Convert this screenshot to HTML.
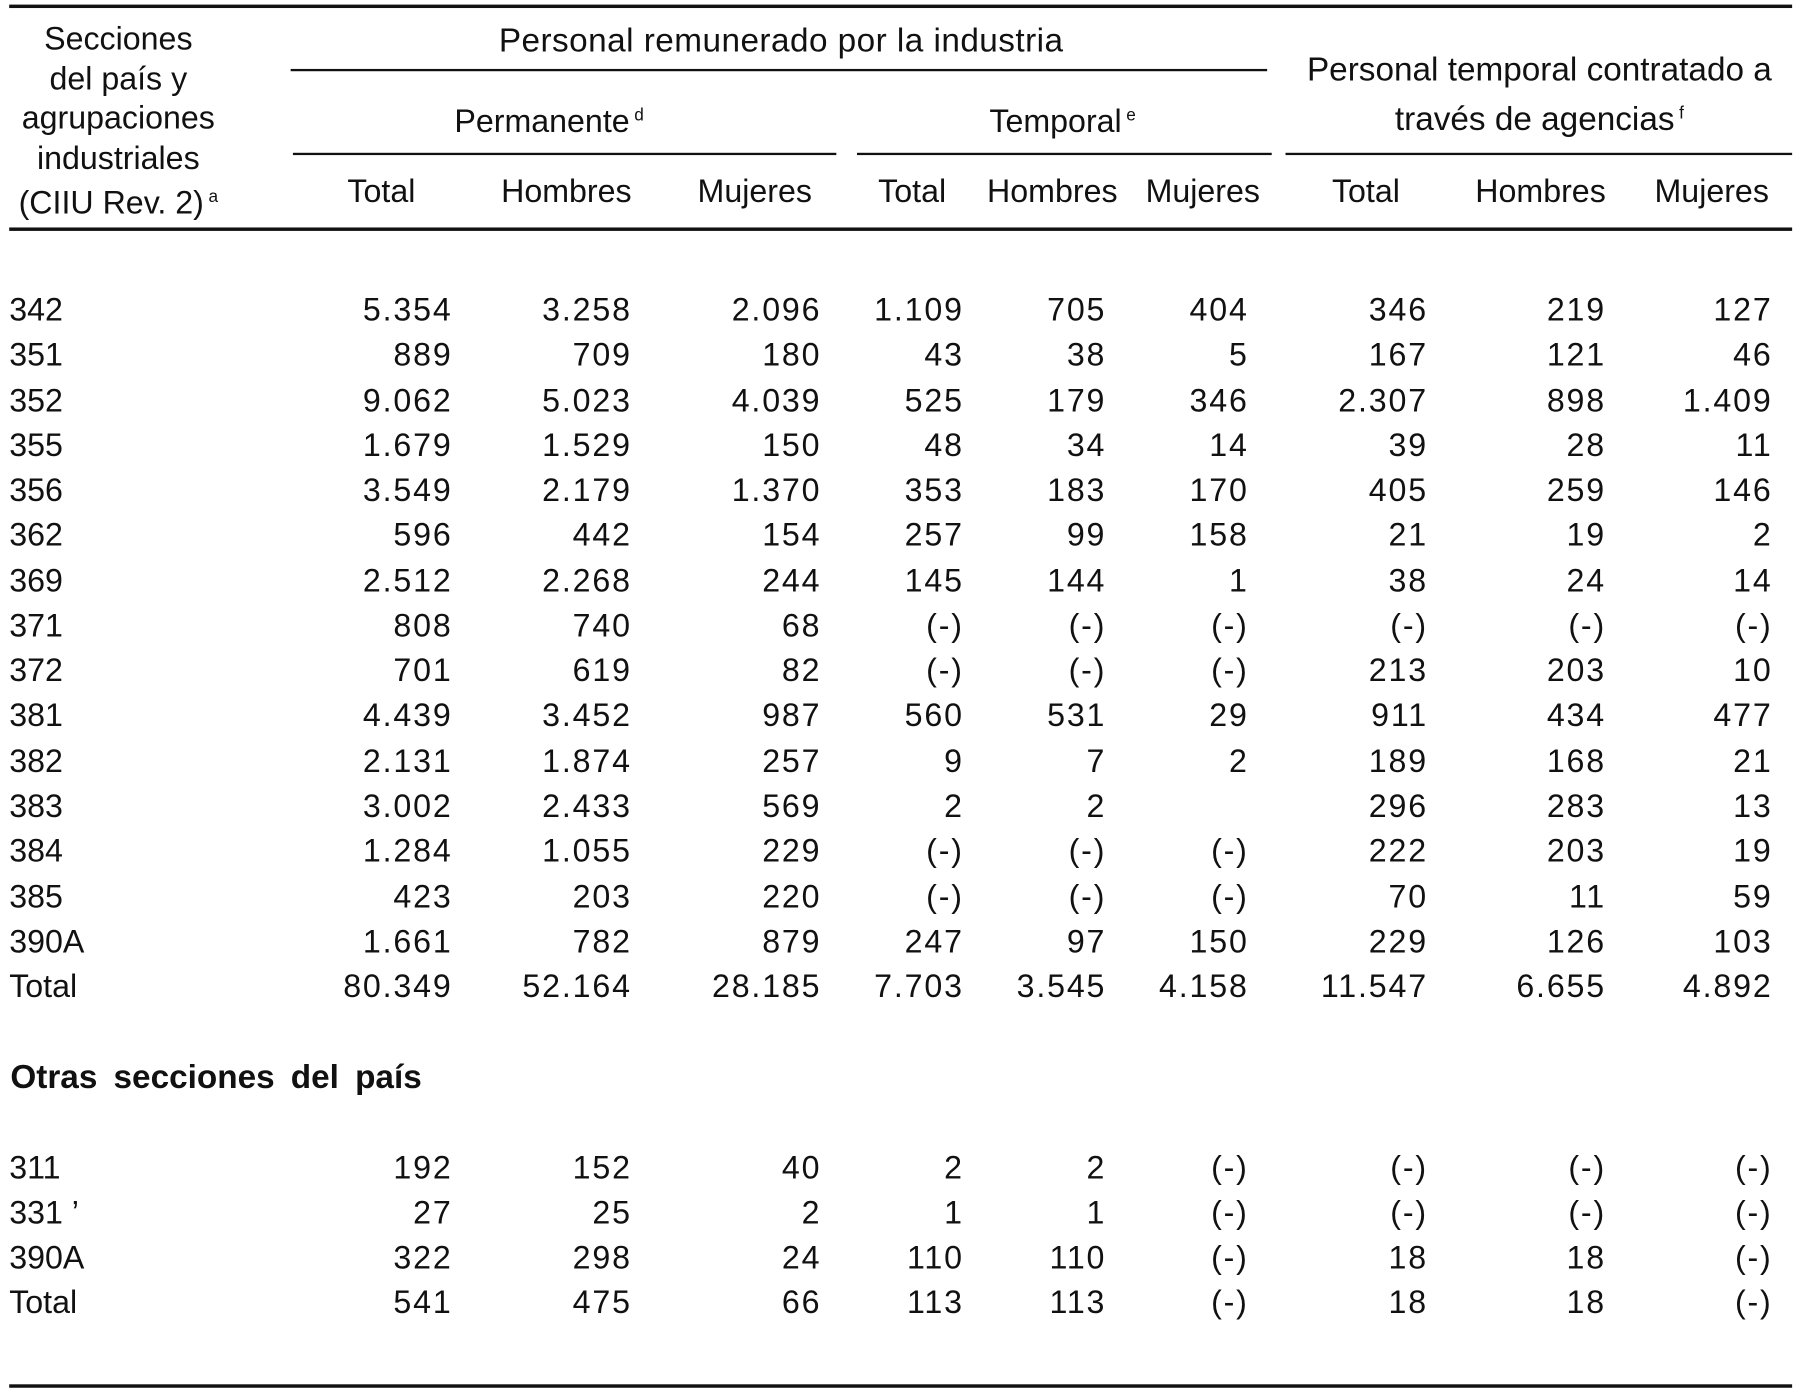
<!DOCTYPE html>
<html><head><meta charset="utf-8">
<style>
html,body{margin:0;padding:0;background:#fff;}
body{width:1799px;height:1396px;overflow:hidden;}
#wrap{position:absolute;left:0;top:0;width:1566px;height:1215px;transform:scale(1.1488);transform-origin:0 0;font-family:"Liberation Sans",sans-serif;color:#111;}
.t{position:absolute;white-space:nowrap;font-size:28px;line-height:30px;}
.c{transform:translateX(-50%);text-align:center;}
.n{letter-spacing:1.6px;}
.r{transform:translateX(-100%);}
.ln{position:absolute;background:#111;height:2px;}
sup{font-size:15px;vertical-align:10px;margin-left:4px;}
</style></head><body>
<div id="wrap">
<div class="ln" style="left:8px;top:4px;width:1552px;height:3px"></div>
<div class="t c" style="left:103px;top:17px;line-height:34.5px">Secciones<br>del país y<br>agrupaciones<br>industriales<br>(CIIU Rev. 2)<sup>a</sup></div>
<div class="t c" style="left:680px;top:21px;font-size:29px;letter-spacing:0.4px">Personal remunerado por la industria</div>
<div class="ln" style="left:253px;top:60px;width:850px"></div>
<div class="t c" style="left:1340px;top:43px;line-height:37px;font-size:29px">Personal temporal contratado a<br>través de agencias<sup>f</sup></div>
<div class="t c" style="left:478px;top:86px">Permanente<sup>d</sup></div>
<div class="t c" style="left:925px;top:86px">Temporal<sup>e</sup></div>
<div class="ln" style="left:255px;top:133px;width:473px"></div>
<div class="ln" style="left:746px;top:133px;width:361px"></div>
<div class="ln" style="left:1119px;top:133px;width:441px"></div>
<div id="colh"></div>
<div class="ln" style="left:8px;top:198px;width:1552px;height:3px"></div>
<div class="t" style="left:9px;top:923px;font-weight:bold;word-spacing:6px;font-size:29px">Otras secciones del país</div>
<div id="body"></div>
<div class="ln" style="left:8px;top:1205px;width:1552px;height:3px"></div>
</div>
<script>
const colHeaders=["Total","Hombres","Mujeres","Total","Hombres","Mujeres","Total","Hombres","Mujeres"];
const rowLabels1=["342","351","352","355","356","362","369","371","372","381","382","383","384","385","390A","Total"];
const values1=[
["5.354","3.258","2.096","1.109","705","404","346","219","127"],
["889","709","180","43","38","5","167","121","46"],
["9.062","5.023","4.039","525","179","346","2.307","898","1.409"],
["1.679","1.529","150","48","34","14","39","28","11"],
["3.549","2.179","1.370","353","183","170","405","259","146"],
["596","442","154","257","99","158","21","19","2"],
["2.512","2.268","244","145","144","1","38","24","14"],
["808","740","68","(-)","(-)","(-)","(-)","(-)","(-)"],
["701","619","82","(-)","(-)","(-)","213","203","10"],
["4.439","3.452","987","560","531","29","911","434","477"],
["2.131","1.874","257","9","7","2","189","168","21"],
["3.002","2.433","569","2","2","","296","283","13"],
["1.284","1.055","229","(-)","(-)","(-)","222","203","19"],
["423","203","220","(-)","(-)","(-)","70","11","59"],
["1.661","782","879","247","97","150","229","126","103"],
["80.349","52.164","28.185","7.703","3.545","4.158","11.547","6.655","4.892"]];
const rowLabels2=["311","331 \u2019","390A","Total"];
const values2=[
["192","152","40","2","2","(-)","(-)","(-)","(-)"],
["27","25","2","1","1","(-)","(-)","(-)","(-)"],
["322","298","24","110","110","(-)","18","18","(-)"],
["541","475","66","113","113","(-)","18","18","(-)"]];
const hdrX=[332,493,657,794,916,1047,1189,1341,1490];
const colRight=[392,548,713,837,961,1085,1241,1396,1541];
const ch=document.getElementById('colh');
colHeaders.forEach((h,i)=>{
 const d=document.createElement('div');d.className='t c';
 d.style.left=hdrX[i]+'px';d.style.top='152px';d.textContent=h;
 
 
 ch.appendChild(d);
});
const body=document.getElementById('body');
function drawRows(labels,vals,y0,step,sec){
 labels.forEach((lab,r)=>{
  const y=y0+r*step-15;
  const l=document.createElement('div');l.className='t';
  l.style.left='8px';l.style.top=y+'px';l.textContent=lab;
  
  
  body.appendChild(l);
  vals[r].forEach((v,c)=>{
   const d=document.createElement('div');d.className='t r n';
   d.style.left=(colRight[c]+2)+'px';d.style.top=y+'px';d.textContent=v;
   
   
   body.appendChild(d);
  });
 });
}
drawRows(rowLabels1,values1,270,39.27,'main');
drawRows(rowLabels2,values2,1017,39,'otras');
</script>
</body></html>
